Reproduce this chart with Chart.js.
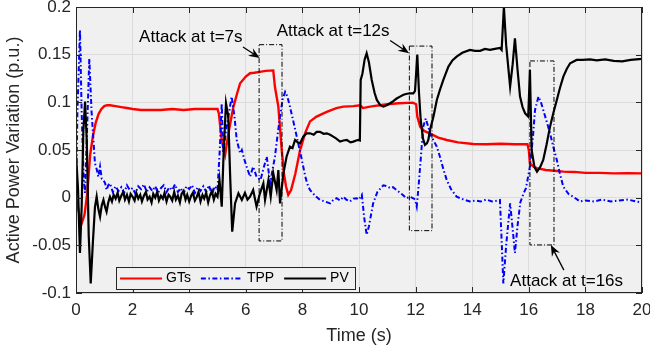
<!DOCTYPE html>
<html><head><meta charset="utf-8">
<script src="https://cdn.jsdelivr.net/npm/chart.js@4/dist/chart.umd.min.js"></script>
<style>html,body{margin:0;padding:0;background:#fff}canvas{display:block}</style>
</head><body>
<canvas id="c" width="650" height="347"></canvas>
<script>
// ---------- data ----------
const seriesNames = ['GTs', 'TPP', 'PV'];

const tGT = [0,0.1,0.2,0.3,0.4,0.5,0.6,0.7,0.8,0.9,1.0,1.1,1.2,1.4,1.6,1.8,2.0,2.3,2.6,3.0,3.4,3.8,4.2,4.6,5.0,5.05,5.15,5.27,5.4,5.56,5.7,5.8,6.0,6.15,6.3,6.5,6.7,6.97,7.03,7.15,7.27,7.35,7.42,7.5,7.6,7.75,7.92,8.1,8.27,8.5,8.86,9.2,9.45,9.8,10.04,10.14,10.3,10.5,10.74,11.0,11.4,11.9,12.02,12.06,12.16,12.3,12.5,12.8,13.1,13.5,14.04,14.5,15.0,15.5,15.95,16.0,16.04,16.15,16.28,16.6,17.0,17.22,17.6,18.0,18.5,19.0,19.5,20.0];
const vGT = [0,-0.015,-0.027,-0.018,0.005,0.045,0.065,0.079,0.088,0.093,0.096,0.097,0.097,0.096,0.095,0.094,0.093,0.092,0.092,0.092,0.093,0.092,0.093,0.093,0.093,0.088,0.06,0.045,0.07,0.095,0.11,0.12,0.127,0.1305,0.131,0.132,0.133,0.1335,0.116,0.0955,0.05,0.025,0.012,0.003,0.008,0.025,0.05,0.068,0.08,0.085,0.09,0.094,0.0955,0.096,0.097,0.094,0.095,0.096,0.097,0.098,0.099,0.0997,0.098,0.085,0.0745,0.07,0.0675,0.063,0.0605,0.058,0.0563,0.056,0.0565,0.056,0.056,0.05,0.036,0.033,0.031,0.029,0.028,0.0273,0.027,0.026,0.026,0.0255,0.0256,0.0255];

const tTPP = [0,0.05,0.14,0.2,0.27,0.32,0.4,0.47,0.55,0.67,0.73,0.79,0.85,0.91,0.97,1.03,1.08,1.14,1.2,
1.3,1.4,1.5,1.6,1.7,1.8,1.9,2.0,2.1,2.2,2.3,2.4,2.5,2.6,2.7,2.8,2.9,3.0,3.1,3.2,3.3,3.4,3.5,3.6,3.7,3.8,3.9,4.0,4.1,4.2,4.3,4.4,4.5,4.6,4.7,4.8,4.9,5.0,
5.08,5.15,5.2,5.3,5.5,5.6,5.68,5.8,5.86,5.95,6.03,6.15,6.26,6.38,6.52,6.62,6.74,6.86,6.95,7.03,7.12,7.21,7.3,7.39,7.47,7.56,7.68,7.8,7.92,8.03,8.12,8.21,8.27,8.45,8.62,8.8,8.98,9.1,9.21,9.33,9.45,9.55,9.68,9.8,9.92,10.0,10.1,10.18,10.27,10.35,10.5,10.65,10.86,11.0,11.1,11.2,11.33,11.5,11.68,11.8,11.92,11.98,12.04,12.1,12.16,12.27,12.36,12.45,12.51,12.6,12.75,12.86,12.98,13.1,13.25,13.45,13.7,13.92,14.1,14.3,14.5,14.7,14.9,14.98,15.04,15.1,15.2,15.34,15.42,15.51,15.6,15.7,15.81,15.9,16.04,16.15,16.22,16.34,16.42,16.51,16.63,16.75,16.87,16.99,17.1,17.22,17.4,17.57,17.81,18.0,18.3,18.6,18.9,19.2,19.5,19.8,20];
const vTPP = [0,0.09,0.176,0.09,0.02,0.005,0.08,0.146,0.09,0.036,0.03,0.022,0.0325,0.02,0.0186,0.015,0.008,0.013,0.015,
0.006,0.012,0.007,0.011,0.005,0.013,0.008,0.01,0.004,0.012,0.009,0.014,0.006,0.011,0.007,0.012,0.005,0.01,0.013,0.006,0.011,0.008,0.014,0.006,0.01,0.004,0.012,0.009,0.013,0.005,0.011,0.007,0.012,0.006,0.013,0.003,0.012,0.008,
0.05,0.099,0.0466,0.07,0.106,0.085,0.0605,0.0466,0.05,0.04,0.0325,0.022,0.0325,0.022,0.0186,0.03,0.043,0.015,0.03,0.043,0.065,0.085,0.103,0.111,0.106,0.0955,0.08,0.064,0.048,0.0325,0.02,0.0115,0.008,0.002,-0.0024,-0.004,-0.006,-0.002,-0.0006,-0.003,0.001,-0.002,-0.004,-0.001,-0.0006,-0.002,0.003,-0.02,-0.039,-0.03,-0.006,0.006,0.013,0.012,0.01,0.011,0.008,0.004,-0.0006,0.001,-0.0006,-0.002,-0.0094,0.01,0.0325,0.0745,0.083,0.074,0.0675,0.062,0.0535,0.043,0.03,0.0186,0.009,0.001,-0.002,-0.004,-0.003,-0.004,-0.002,-0.004,-0.003,-0.0024,-0.045,-0.09,-0.05,-0.006,-0.03,-0.058,-0.03,-0.005,0.004,0.01,0.0325,0.065,0.092,0.106,0.101,0.092,0.08,0.0675,0.053,0.0395,0.025,0.0115,0.004,0.001,-0.004,-0.003,-0.004,-0.002,-0.004,-0.003,-0.002,-0.004,-0.005];

const tPV = [0,0.07,0.14,0.2,0.26,0.32,0.38,0.45,0.52,0.6,0.67,0.73,0.79,0.85,0.91,0.97,1.03,1.08,1.14,1.2,
1.27,1.33,1.4,1.47,1.53,1.6,1.67,1.73,1.8,1.87,1.93,2.0,2.07,2.13,2.2,2.27,2.33,2.4,2.47,2.53,2.6,2.67,2.73,2.8,2.87,2.93,3.0,3.07,3.13,3.2,3.27,3.33,3.4,3.47,3.53,3.6,3.67,3.73,3.8,3.87,3.93,4.0,4.07,4.13,4.2,4.27,4.33,4.4,4.47,4.53,4.6,4.67,4.73,4.8,4.87,4.93,5.0,
5.07,5.15,5.22,5.3,5.38,5.45,5.52,5.62,5.74,5.86,5.97,6.06,6.15,6.26,6.38,6.5,6.62,6.68,6.8,6.88,6.97,7.09,7.15,7.21,7.33,7.44,7.56,7.65,7.74,7.83,7.92,8.03,8.15,8.27,8.4,8.5,8.62,8.75,8.86,8.98,9.09,9.2,9.33,9.45,9.57,9.7,9.8,9.9,9.98,10.03,10.06,10.12,10.2,10.27,10.35,10.45,10.55,10.63,10.75,10.86,10.98,11.1,11.2,11.33,11.45,11.57,11.7,11.8,11.92,11.98,12.06,12.12,12.18,12.26,12.33,12.4,12.45,12.51,12.63,12.75,12.86,12.98,13.16,13.3,13.45,13.65,13.92,14.1,14.28,14.45,14.63,14.8,14.98,15.04,15.12,15.2,15.34,15.43,15.51,15.6,15.69,15.78,15.87,15.98,16.04,16.1,16.2,16.29,16.4,16.51,16.63,16.75,16.87,16.99,17.1,17.22,17.34,17.46,17.69,17.9,18.16,18.4,18.7,19.0,19.3,19.6,20.0];
const vPV = [0.045,0.01,-0.058,-0.01,0.07,0.1007,0.06,-0.04,-0.09,-0.045,-0.01,0.001,-0.012,-0.02,-0.008,-0.0024,-0.01,-0.0147,-0.005,0.001,
-0.004,0.003,-0.001,0.005,-0.003,0.002,0.006,-0.002,0.003,-0.004,0.004,0.001,-0.003,0.005,-0.001,0.003,-0.004,0.002,0.006,-0.002,0.001,-0.005,0.004,0.0,0.006,-0.003,0.002,-0.001,0.005,-0.004,0.003,0.001,-0.003,0.006,-0.002,0.002,-0.005,0.004,0.007,-0.002,0.003,-0.004,0.002,0.005,-0.003,0.001,0.006,-0.004,0.003,-0.001,0.005,-0.005,0.002,0.007,-0.002,0.004,0.001,
0.0186,-0.0094,0.05,0.099,0.085,0.02,-0.0357,-0.006,0.0046,-0.0024,0.005,-0.002,0.001,0.008,-0.0094,0.0046,0.015,-0.0024,0.0186,0.001,0.0256,0.008,0.029,-0.006,0.0256,0.043,0.0535,0.052,0.0605,0.058,0.057,0.064,0.0675,0.0675,0.066,0.069,0.069,0.067,0.0675,0.066,0.064,0.062,0.0588,0.06,0.0605,0.058,0.0588,0.06,0.0605,0.06,0.1235,0.13,0.145,0.1515,0.142,0.1235,0.11,0.1025,0.097,0.0955,0.097,0.099,0.101,0.104,0.106,0.108,0.109,0.1095,0.1095,0.112,0.15,0.11,0.0815,0.062,0.0553,0.057,0.0605,0.071,0.085,0.1025,0.113,0.1235,0.1375,0.144,0.148,0.152,0.155,0.154,0.154,0.156,0.155,0.156,0.157,0.155,0.2,0.16,0.1165,0.14,0.167,0.135,0.106,0.095,0.0885,0.085,0.134,0.05,0.032,0.0273,0.032,0.0395,0.056,0.0745,0.089,0.1025,0.115,0.127,0.135,0.141,0.1445,0.1445,0.145,0.144,0.145,0.1435,0.143,0.1445,0.1455];

const xTickValues = [0,2,4,6,8,10,12,14,16,18,20];
const xTickLabels = ['0','2','4','6','8','10','12','14','16','18','20'];
const yTickValues = [-0.1,-0.05,0,0.05,0.1,0.15,0.2];
const yTickLabels = ['-0.1','-0.05','0','0.05','0.1','0.15','0.2'];

const attackLabels = ['Attack at t=7s', 'Attack at t=12s', 'Attack at t=16s'];

// ---------- annotation geometry (data coordinates) ----------
const annotations = [
  { box:[6.47, 7.28, -0.0454, 0.1605], text:[2.23, 0.1686], arrow:[5.9, 0.158, 6.49, 0.1466] },
  { box:[11.78, 12.58, -0.0346, 0.159], text:[7.09, 0.1744], arrow:[11.1, 0.1648, 11.77, 0.1515] },
  { box:[16.04, 16.89, -0.0496, 0.1434], text:[15.34, -0.0874], arrow:[17.24, -0.076, 16.78, -0.0497] }
];

const FONT = "'Liberation Sans', Arial, Helvetica, sans-serif";
const INK = '#262626';
Chart.defaults.font.family = FONT;
Chart.defaults.color = INK;

function pts(t, v) { return t.map((x, i) => ({ x: x, y: v[i] })); }

const colors = ['#ff0000', '#0000ff', '#000000'];
const dashes = [[], [5, 2.5, 1.5, 2.5], []];

const deco = {
  id: 'deco',
  beforeDraw(chart) {
    const { ctx, chartArea: a } = chart;
    ctx.save();
    ctx.fillStyle = '#f0f0f0';
    ctx.fillRect(a.left, a.top, a.right - a.left, a.bottom - a.top);
    ctx.restore();
  },
  afterDraw(chart) {
    const { ctx, chartArea: a } = chart;
    const xs = chart.scales.x, ys = chart.scales.y;
    ctx.save();
    // axes box
    ctx.strokeStyle = INK;
    ctx.lineWidth = 1;
    ctx.strokeRect(a.left + 0.5, a.top + 0.5, a.right - a.left - 1, a.bottom - a.top - 1);
    // inner tick marks
    const tl = 6;
    ctx.beginPath();
    xTickValues.forEach(v => {
      const px = Math.round(xs.getPixelForValue(v)) + 0.5;
      ctx.moveTo(px, a.bottom); ctx.lineTo(px, a.bottom - tl);
      ctx.moveTo(px, a.top); ctx.lineTo(px, a.top + tl);
    });
    yTickValues.forEach(v => {
      const py = Math.round(ys.getPixelForValue(v)) + 0.5;
      ctx.moveTo(a.left, py); ctx.lineTo(a.left + tl, py);
      ctx.moveTo(a.right, py); ctx.lineTo(a.right - tl, py);
    });
    ctx.stroke();

    // annotations
    annotations.forEach((an, i) => {
      const x0 = xs.getPixelForValue(an.box[0]), x1 = xs.getPixelForValue(an.box[1]);
      const y0 = ys.getPixelForValue(an.box[2]), y1 = ys.getPixelForValue(an.box[3]);
      ctx.strokeStyle = '#000';
      ctx.lineWidth = 1;
      ctx.setLineDash([5, 2, 1, 2]);
      ctx.strokeRect(x0, y1, x1 - x0, y0 - y1);
      ctx.setLineDash([]);
      // text
      ctx.fillStyle = '#000';
      ctx.font = '17px ' + FONT;
      ctx.textAlign = 'left';
      ctx.textBaseline = 'middle';
      ctx.fillText(attackLabels[i], xs.getPixelForValue(an.text[0]), ys.getPixelForValue(an.text[1]));
      // arrow
      const ax = xs.getPixelForValue(an.arrow[0]), ay = ys.getPixelForValue(an.arrow[1]);
      const bx = xs.getPixelForValue(an.arrow[2]), by = ys.getPixelForValue(an.arrow[3]);
      const ang = Math.atan2(by - ay, bx - ax);
      const L = 11, W = 4.5;
      const ux = Math.cos(ang), uy = Math.sin(ang);
      ctx.lineWidth = 1.3;
      ctx.beginPath();
      ctx.moveTo(ax, ay);
      ctx.lineTo(bx - ux * L * 0.6, by - uy * L * 0.6);
      ctx.stroke();
      ctx.beginPath();
      ctx.moveTo(bx, by);
      ctx.lineTo(bx - ux * L - uy * W, by - uy * L + ux * W);
      ctx.lineTo(bx - ux * L * 0.65, by - uy * L * 0.65);
      ctx.lineTo(bx - ux * L + uy * W, by - uy * L - ux * W);
      ctx.closePath();
      ctx.fill();
    });

    // legend
    ctx.font = '14px ' + FONT;
    const lineLen = 42, gapT = 4, gapItem = 10, padL = 4, padR = 6;
    let w = padL;
    seriesNames.forEach((n, i) => {
      w += lineLen + gapT + ctx.measureText(n).width + (i < seriesNames.length - 1 ? gapItem : padR);
    });
    const lx = a.left + 40, lh = 22, ly = a.bottom - 4 - lh;
    ctx.fillStyle = '#f0f0f0';
    ctx.fillRect(lx, ly, w, lh);
    ctx.strokeStyle = INK;
    ctx.lineWidth = 1;
    ctx.strokeRect(Math.round(lx) + 0.5, Math.round(ly) + 0.5, Math.round(w), lh);
    let cx = lx + padL;
    const cy = ly + lh / 2 + 0.5;
    seriesNames.forEach((n, i) => {
      ctx.strokeStyle = colors[i];
      ctx.lineWidth = 2;
      ctx.setLineDash(dashes[i]);
      ctx.beginPath(); ctx.moveTo(cx, cy); ctx.lineTo(cx + lineLen, cy); ctx.stroke();
      ctx.setLineDash([]);
      cx += lineLen + gapT;
      ctx.fillStyle = '#000';
      ctx.textAlign = 'left';
      ctx.textBaseline = 'middle';
      ctx.fillText(n, cx, cy);
      cx += ctx.measureText(n).width + gapItem;
    });
    ctx.restore();
  }
};

new Chart(document.getElementById('c'), {
  type: 'line',
  data: {
    datasets: [
      { label: seriesNames[0], data: pts(tGT, vGT), borderColor: colors[0], borderWidth: 2.4, order: 3 },
      { label: seriesNames[1], data: pts(tTPP, vTPP), borderColor: colors[1], borderWidth: 2, borderDash: dashes[1], order: 2 },
      { label: seriesNames[2], data: pts(tPV, vPV), borderColor: colors[2], borderWidth: 2.2, order: 1 }
    ]
  },
  options: {
    responsive: false,
    devicePixelRatio: 1,
    animation: false,
    parsing: false,
    elements: { point: { radius: 0 }, line: { tension: 0, fill: false } },
    layout: { padding: { top: 7, right: 8, left: 0, bottom: 0 } },
    plugins: { legend: { display: false }, tooltip: { enabled: false } },
    scales: {
      x: {
        type: 'linear', min: 0, max: 20,
        afterBuildTicks: s => { s.ticks = xTickValues.map(v => ({ value: v })); },
        afterFit: s => { s.height = 54; s.paddingLeft = 0; s.paddingRight = 0; },
        ticks: { padding: 7, font: { size: 17 }, color: INK, maxRotation: 0, autoSkip: false,
          callback: (v, i) => xTickLabels[i] },
        grid: { color: '#dcdcdc', lineWidth: 1, drawTicks: false },
        border: { display: false },
        title: { display: true, text: 'Time (s)', font: { size: 18 }, color: INK, padding: { top: 4, bottom: 0 } }
      },
      y: {
        type: 'linear', min: -0.1, max: 0.2,
        afterBuildTicks: s => { s.ticks = yTickValues.map(v => ({ value: v })); },
        afterFit: s => { s.width = 76; s.paddingTop = 0; s.paddingBottom = 0; },
        ticks: { padding: 5, font: { size: 17 }, color: INK, autoSkip: false,
          callback: (v, i) => yTickLabels[i] },
        grid: { color: '#dcdcdc', lineWidth: 1, drawTicks: false },
        border: { display: false },
        title: { display: true, text: 'Active Power Variation (p.u.)', font: { size: 18 }, color: INK, padding: { top: 3, bottom: 0 } }
      }
    }
  },
  plugins: [deco]
});
</script>
</body></html>
